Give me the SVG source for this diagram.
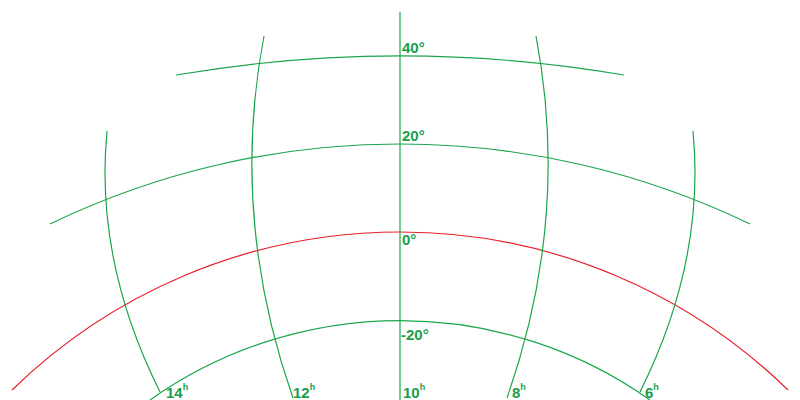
<svg xmlns="http://www.w3.org/2000/svg" width="800" height="400" viewBox="0 0 800 400">
<style>
.g{fill:none;stroke:#1aa64a;stroke-width:1.2}
.r{fill:none;stroke:#e8202a;stroke-width:1.2}
text{font-family:"Liberation Sans Narrow","Liberation Sans",Arial,sans-serif;font-weight:bold;font-size:15px;fill:#1a9e4a}
.s{font-size:9px}
</style>
<rect width="800" height="400" fill="#ffffff"/>
<g id="connectors">
<g id="parallels">
<path id="p40" class="g" d="M176,75 A1330,1330 0 0 1 624,75"/>
<path id="p20" class="g" d="M50,224 A805.6,805.6 0 0 1 750,224"/>
<path id="p0" class="r" d="M12,390 A555.4,555.4 0 0 1 788,390"/>
<path id="pm20" class="g" d="M150,400 A433.3,433.3 0 0 1 650,400"/>
</g>
<g id="meridians">
<path id="m10" class="g" d="M400,12 L400,400"/>
<path id="m12" class="g" d="M264,36 Q229.5,217 293,398"/>
<path id="m8" class="g" d="M536,36 Q570.5,217 507,398"/>
<path id="m14" class="g" d="M107,131 Q94.5,260.5 160,392"/>
<path id="m6" class="g" d="M693,131 Q705.5,260.5 640,392"/>
</g>
</g>
<g id="labels">
<text x="402" y="53">40°</text>
<text x="402" y="141">20°</text>
<text x="402" y="245">0°</text>
<text x="401" y="340">-20°</text>
<text x="166" y="398">14<tspan class="s" dy="-8">h</tspan></text>
<text x="293" y="398">12<tspan class="s" dy="-8">h</tspan></text>
<text x="403" y="398">10<tspan class="s" dy="-8">h</tspan></text>
<text x="512" y="398">8<tspan class="s" dy="-8">h</tspan></text>
<text x="645" y="398">6<tspan class="s" dy="-8">h</tspan></text>
</g>
</svg>
